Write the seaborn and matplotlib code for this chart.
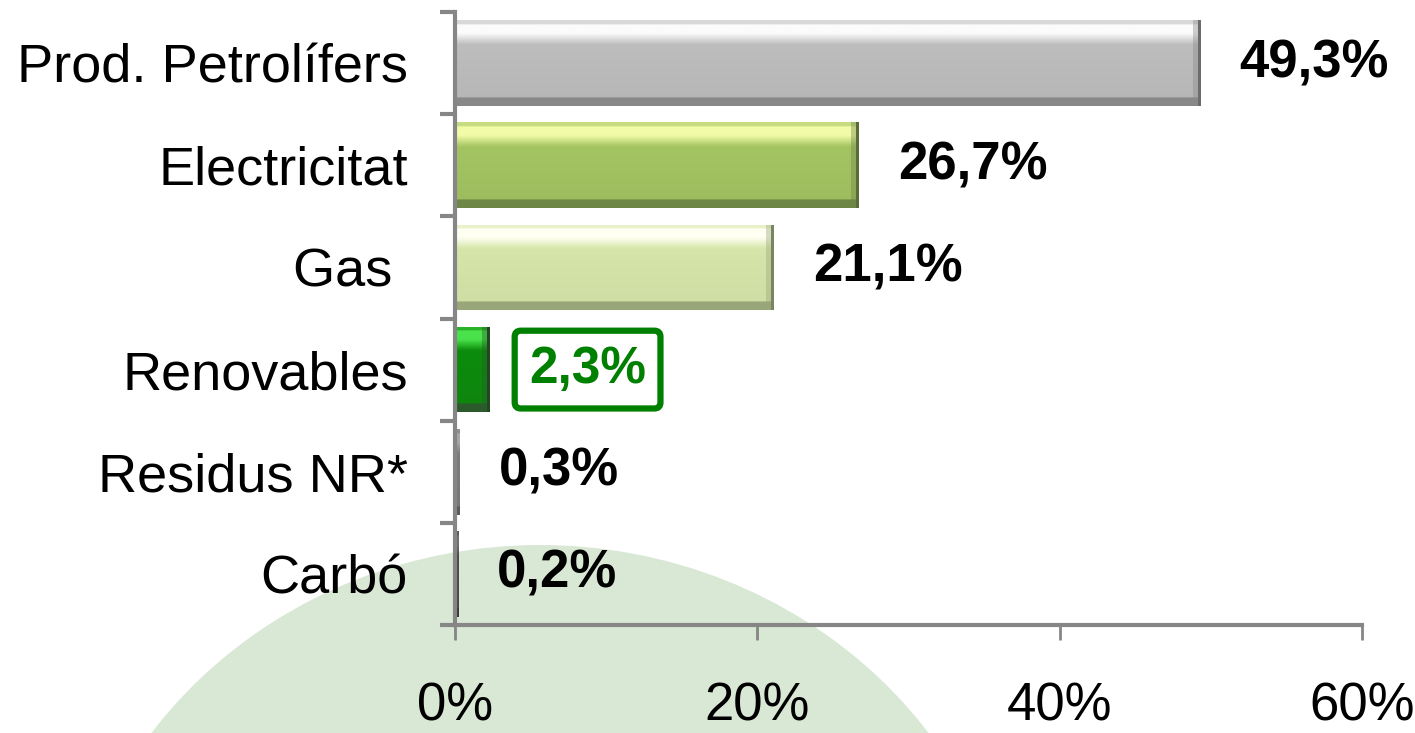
import numpy as np
import pandas as pd
import seaborn as sns
import matplotlib.pyplot as plt
from matplotlib.patches import Ellipse
from matplotlib.colors import to_rgb

categories = ['Prod. Petrolífers', 'Electricitat', 'Gas ', 'Renovables', 'Residus NR*', 'Carbó']
values = [49.3, 26.7, 21.1, 2.3, 0.3, 0.2]
value_labels = ['49,3%', '26,7%', '21,1%', '2,3%', '0,3%', '0,2%']
x_ticks = [0, 20, 40, 60]
x_tick_labels = ['0%', '20%', '40%', '60%']

# body colour, highlight colour, dark edge colour
bar_styles = [
    ('#bdbdbd', '#fbfbfb', '#888888'),
    ('#a4c462', '#f2fba8', '#6e8646'),
    ('#d6e6aa', '#fffff2', '#98a67a'),
    ('#0b8c0b', '#4ae24a', '#2b5a2b'),
    ('#7c7c7c', '#a8a8a8', '#5a5a5a'),
    ('#4c4c4c', '#707070', '#3a3a3a'),
]

df = pd.DataFrame({'category': categories, 'value': values})

sns.set_style('white')
plt.rcParams['font.family'] = ['Liberation Sans', 'DejaVu Sans']

fig = plt.figure(figsize=(14.15, 7.33), dpi=100)
fig.patch.set_facecolor('white')

# light green background blob, on its own axes behind the chart
bg = fig.add_axes([0, 0, 1, 1], zorder=-5)
bg.set_xlim(0, 1415)
bg.set_ylim(733, 0)
bg.axis('off')
bg.add_patch(Ellipse((540, 1000), 2 * 480, 2 * 455, facecolor='#d9e8d5', edgecolor='none'))

ax = fig.add_axes([455 / 1415, 1 - 625 / 733, 907 / 1415, 613 / 733])
ax.set_facecolor('none')

sns.barplot(data=df, x='value', y='category', hue='category', legend=False,
            palette=[s[0] for s in bar_styles], width=0.84, orient='h', ax=ax,
            edgecolor='none')

ax.set_xlim(0, 60)
ax.set_ylim(5.5, -0.5)
fig.canvas.draw()

# gradient shading clipped to each bar
for patch, (body, hi, dark) in zip(ax.patches, bar_styles):
    x0, y0 = patch.get_x(), patch.get_y()
    w, h = patch.get_width(), patch.get_height()
    bb = patch.get_window_extent()
    npx = max(int(round(bb.width)), 1)
    nrow = 60
    b, hc, d = np.array(to_rgb(body)), np.array(to_rgb(hi)), np.array(to_rgb(dark))
    t = np.linspace(0, 1, nrow)
    prof = np.zeros((nrow, 3))
    for i, tt in enumerate(t):
        if tt < 0.04:
            c = 0.55 * b + 0.45 * hc
        elif tt < 0.15:
            c = hc
        elif tt < 0.28:
            f = (tt - 0.15) / 0.13
            c = (1 - f) * hc + f * b
        elif tt < 0.9:
            f = 0.12 * (tt - 0.28) / 0.62
            c = b * (1 - f) + d * f
        else:
            c = d
        prof[i] = c
    img = np.repeat(prof[:, None, :], npx, axis=1)
    edge = min(8, max(npx // 3, 1))
    if npx > 6:
        img[:, -edge:, :] = img[:, -edge:, :] * 0.6 + d * 0.4
        img[:, -3:, :] = d * 0.8
    im = ax.imshow(img, extent=(x0, x0 + w, y0 + h, y0), origin='upper',
                   aspect='auto', zorder=patch.get_zorder() + 0.1, interpolation='bilinear')
    im.set_clip_path(patch)

ax.set_xlim(0, 60)
ax.set_ylim(5.5, -0.5)

for i, (v, lab) in enumerate(zip(values, value_labels)):
    if i == 3:
        ax.text(v + 2.6, i, lab, va='center', ha='left', fontsize=37, fontweight='bold',
                color='#008000',
                bbox=dict(boxstyle='round,pad=0.28,rounding_size=0.12', fc='white',
                          ec='#008000', lw=4.5))
    else:
        ax.text(v + 2.6, i, lab, va='center', ha='left', fontsize=38, fontweight='bold',
                color='black')

axis_grey = '#868686'
for side in ['top', 'right']:
    ax.spines[side].set_visible(False)
for side in ['left', 'bottom']:
    ax.spines[side].set_color(axis_grey)
    ax.spines[side].set_linewidth(3)

ax.set_xticks(x_ticks)
ax.set_xticklabels(x_tick_labels, fontsize=38, color='black')
ax.tick_params(axis='x', bottom=True, direction='out', length=11, width=2,
               color=axis_grey, pad=30)
ax.set_yticks(range(len(categories)))
ax.set_yticklabels(categories, fontsize=39, color='black')
ax.tick_params(axis='y', which='major', left=True, length=0, pad=34)
ax.set_yticks(np.arange(-0.5, len(categories), 1), minor=True)
ax.tick_params(axis='y', which='minor', left=True, direction='out', length=11, width=3,
               color=axis_grey)
ax.set_xlabel('')
ax.set_ylabel('')

fig.savefig('out.png', dpi=100)
